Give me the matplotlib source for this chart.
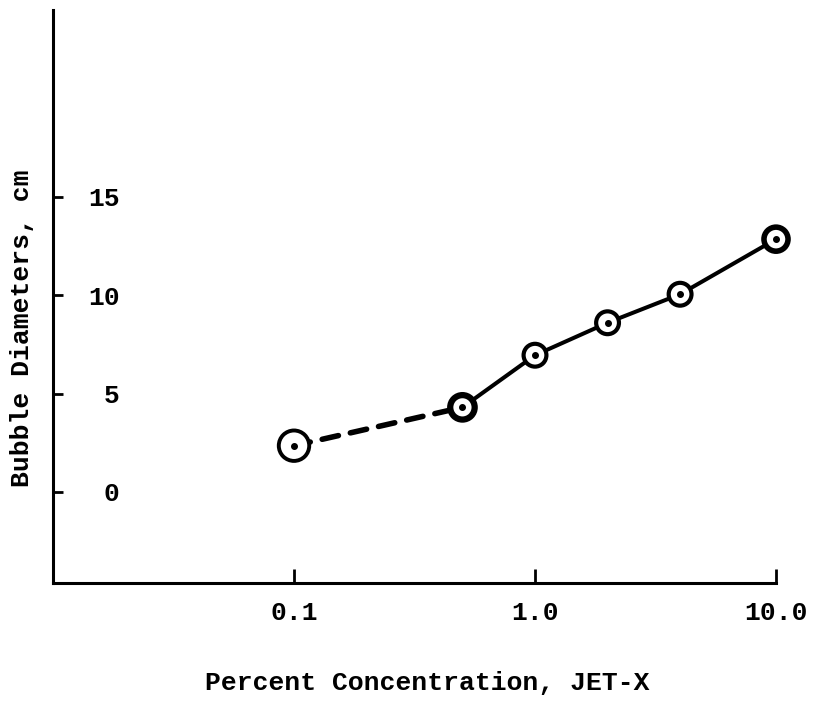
import matplotlib
matplotlib.use('Agg')
import matplotlib.pyplot as plt
from matplotlib.ticker import NullLocator, FixedLocator, FixedFormatter

# ---- data ----
conc = [0.1, 0.5, 1.0, 2.0, 4.0, 10.0]          # percent concentration, JET-X
diam = [2.35, 4.3, 6.95, 8.6, 10.05, 12.85]     # bubble diameter, cm
xtick_vals = [0.1, 1.0, 10.0]
xtick_labels = ['0.1', '1.0', '10.0']
ytick_vals = [0, 5, 10, 15]
ytick_labels = ['0', '5', '10', '15']

# ---- style ----
marker_area = [480, 310, 270, 270, 270, 300]
marker_edge = [2.8, 4.5, 3.0, 3.0, 3.0, 4.0]
FONT = 'Liberation Mono'
FS = 19

fig = plt.figure(figsize=(8.15, 7.02), dpi=100)
ax = fig.add_axes([53/815, 119/702, 723/815, 573/702])

ax.set_xscale('log')
ax.set_xlim(0.01, 10.0)
ax.set_ylim(-4.63, 24.5)

# dashed extrapolated segment and solid line
ax.plot(conc[:2], diam[:2], color='black', lw=4, dashes=(3, 2.2),
        solid_capstyle='round', dash_capstyle='round', zorder=2)
ax.plot(conc[1:], diam[1:], color='black', lw=2.9, zorder=2)

# open circle markers with a center dot
ax.scatter(conc, diam, s=marker_area, facecolor='white', edgecolor='black',
           linewidths=marker_edge, zorder=3, clip_on=False)
ax.scatter(conc, diam, s=16, color='black', zorder=4, clip_on=False)

# spines
for side in ['top', 'right']:
    ax.spines[side].set_visible(False)
for side in ['left', 'bottom']:
    ax.spines[side].set_linewidth(2.2)

# ticks
ax.xaxis.set_major_locator(FixedLocator(xtick_vals))
ax.xaxis.set_major_formatter(FixedFormatter(xtick_labels))
ax.xaxis.set_minor_locator(NullLocator())
ax.yaxis.set_major_locator(FixedLocator(ytick_vals))
ax.yaxis.set_major_formatter(FixedFormatter(ytick_labels))
ax.yaxis.set_minor_locator(NullLocator())

ax.tick_params(axis='x', direction='in', length=10, width=2, pad=13,
               labelsize=FS)
ax.tick_params(axis='y', direction='in', length=7, width=2, pad=-48,
               labelsize=FS)
for lab in ax.get_xticklabels() + ax.get_yticklabels():
    lab.set_fontfamily(FONT)
    lab.set_fontweight('bold')

ax.set_xlabel('Percent Concentration, JET-X', fontsize=FS, fontfamily=FONT,
              fontweight='bold', va='center')
ax.xaxis.set_label_coords(0.517, -0.175)
ax.set_ylabel('Bubble Diameters, cm', fontsize=FS, fontfamily=FONT,
              fontweight='bold', va='center')
ax.yaxis.set_label_coords(-0.043, 0.445)

fig.savefig('out.png', dpi=100, facecolor='white')
